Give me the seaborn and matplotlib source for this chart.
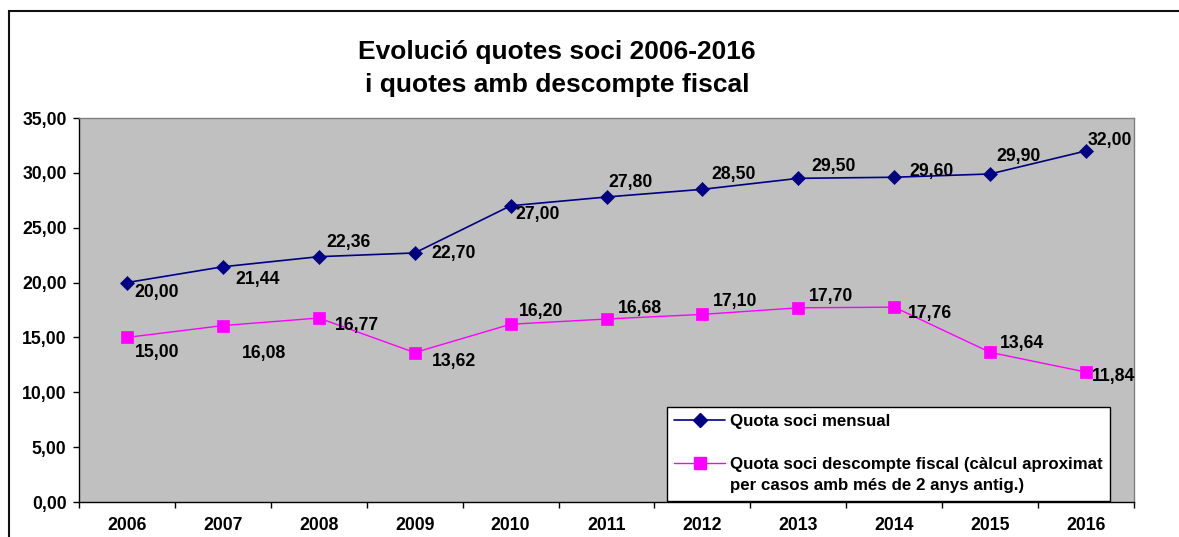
import matplotlib
matplotlib.use("Agg")
import matplotlib.pyplot as plt
from matplotlib.lines import Line2D
from matplotlib.patches import Rectangle
import seaborn as sns
import pandas as pd

# ---- data ----
years = ["2006", "2007", "2008", "2009", "2010", "2011", "2012", "2013", "2014", "2015", "2016"]
quota_mensual = [20.00, 21.44, 22.36, 22.70, 27.00, 27.80, 28.50, 29.50, 29.60, 29.90, 32.00]
quota_fiscal = [15.00, 16.08, 16.77, 13.62, 16.20, 16.68, 17.10, 17.70, 17.76, 13.64, 11.84]
y_ticks = [0, 5, 10, 15, 20, 25, 30, 35]
name_mensual = "Quota soci mensual"
name_fiscal_1 = "Quota soci descompte fiscal (càlcul aproximat"
name_fiscal_2 = "per casos amb més de 2 anys antig.)"
title_text = "Evolució quotes soci 2006-2016\ni quotes amb descompte fiscal"

# label offsets (pixels: right, down) - styling only
off_mensual = [(7, 10), (13, 13), (8, -14), (17, 1), (5, 9), (2, -14), (9, -15), (13, -12), (15, -6), (6, -17), (2, -10)]
off_fiscal = [(8, 15), (19, 28), (16, 7), (17, 9), (8, -13), (11, -10), (10, -13), (11, -11), (14, 6), (10, -9), (6, 4)]

sns.set_theme(style="white")
plt.rcParams["font.family"] = ["Liberation Sans", "DejaVu Sans"]
plt.rcParams["font.weight"] = "bold"
for k in ["text.color", "axes.labelcolor", "xtick.color", "ytick.color"]:
    plt.rcParams[k] = "black"

W, H = 1179, 537
fig = plt.figure(figsize=(W / 100, H / 100), dpi=100)
fig.patch.set_facecolor("white")
ax = fig.add_axes([79 / W, 1 - 502 / H, (1134 - 79) / W, (502 - 118) / H])
ax.set_facecolor("#C0C0C0")

df = pd.DataFrame({"year": years, "mensual": quota_mensual, "fiscal": quota_fiscal})

navy = "#000080"
mag = "#FF00FF"
sns.lineplot(data=df, x="year", y="mensual", ax=ax, color=navy, lw=1.2,
             marker="D", markersize=7.5, markeredgecolor=navy, markerfacecolor=navy, markeredgewidth=0.5)
sns.lineplot(data=df, x="year", y="fiscal", ax=ax, color=mag, lw=1.0,
             marker="s", markersize=8.5, markeredgecolor=mag, markerfacecolor=mag, markeredgewidth=0.5)

def fmt(v):
    return f"{v:.2f}".replace(".", ",")

LBL = 12.7
for i, (v, (dx, dy)) in enumerate(zip(quota_mensual, off_mensual)):
    ax.annotate(fmt(v), (i, v), xytext=(dx, -dy), textcoords="offset pixels",
                ha="left", va="center", fontsize=LBL, fontweight="bold", color="black")
for i, (v, (dx, dy)) in enumerate(zip(quota_fiscal, off_fiscal)):
    ax.annotate(fmt(v), (i, v), xytext=(dx, -dy), textcoords="offset pixels",
                ha="left", va="center", fontsize=LBL, fontweight="bold", color="black")

ax.set_xlim(-0.5, len(years) - 0.5)
ax.set_ylim(0, 35)
ax.set_yticks(y_ticks)
ax.set_yticklabels([fmt(t) for t in y_ticks], fontsize=LBL, fontweight="bold")
ax.set_xticks([i - 0.5 for i in range(len(years) + 1)])
ax.set_xticklabels([])
ax.set_xticks(list(range(len(years))), minor=True)
ax.set_xticklabels(years, minor=True, fontsize=LBL, fontweight="bold")
ax.tick_params(axis="x", which="major", direction="out", length=4, width=1, color="black", bottom=True)
ax.tick_params(axis="x", which="minor", length=0, pad=11, bottom=True)
ax.tick_params(axis="y", which="major", direction="out", length=4, width=1, color="black", left=True, pad=5)
ax.set_xlabel("")
ax.set_ylabel("")

for s in ["left", "bottom"]:
    ax.spines[s].set_color("black")
    ax.spines[s].set_linewidth(1.0)
for s in ["top", "right"]:
    ax.spines[s].set_color("#808080")
    ax.spines[s].set_linewidth(1.0)

# legend
h1 = Line2D([], [], color=navy, lw=1.2, marker="D", markersize=7.5, markerfacecolor=navy, markeredgecolor=navy)
h2 = Line2D([], [], color=mag, lw=1.0, marker="s", markersize=8.5, markerfacecolor=mag, markeredgecolor=mag)
blank = Line2D([], [], linestyle="none")
leg = ax.legend([h1, blank, h2, blank], [name_mensual, " ", name_fiscal_1, name_fiscal_2],
                loc="upper left", bbox_to_anchor=(667 / W, 1 - 407 / H), bbox_transform=fig.transFigure,
                prop={"size": 12.2, "weight": "bold"}, frameon=True, fancybox=False, shadow=False,
                framealpha=1, facecolor="white", edgecolor="black", handlelength=3.0,
                handletextpad=0.3, labelspacing=0.38, borderpad=0.42, borderaxespad=0)
leg.get_frame().set_linewidth(1.0)

fig.text(557 / W, 1 - 68.5 / H, title_text, ha="center", va="center", fontsize=19,
         fontweight="bold", linespacing=1.5)

fig.add_artist(Rectangle((9 / W, -0.5), 2.0, (1 - 11 / H) + 0.5, transform=fig.transFigure,
                         fill=False, edgecolor="#111111", lw=1.5))

fig.savefig("out.png", dpi=100)
